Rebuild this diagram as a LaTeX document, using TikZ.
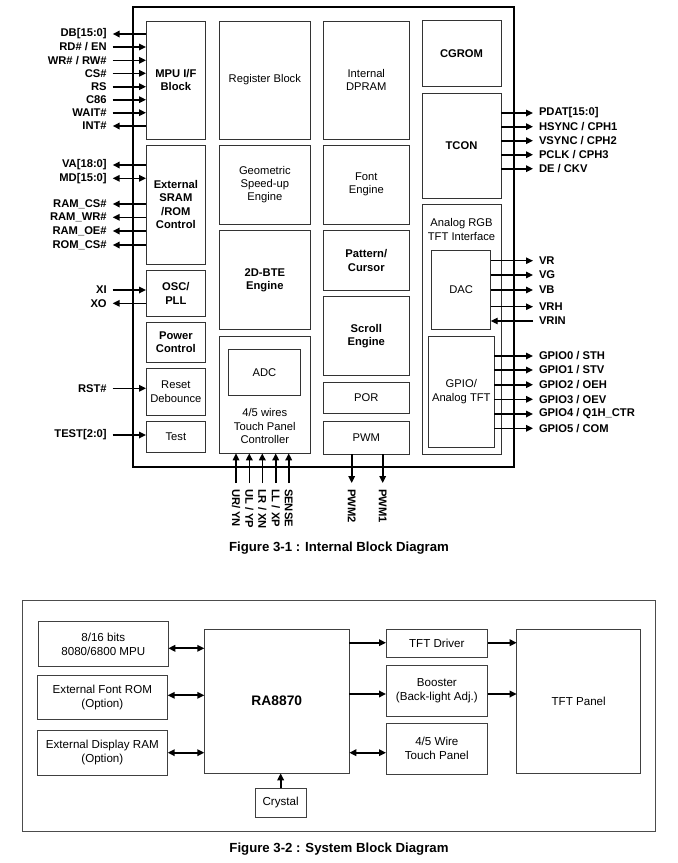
\documentclass[tikz,border=0pt]{standalone}
\usepackage{fontspec}
\setmainfont{Liberation Sans}
\usetikzlibrary{arrows.meta}
\tikzset{
  box/.style={draw=black!80, line width=0.9pt, fill=white, inner sep=1pt, outer sep=0pt, align=center, font=\fontsize{11.2}{13.3}\selectfont},
  bbox/.style={box, font=\fontsize{11.2}{13.3}\selectfont\bfseries},
  pinl/.style={font=\fontsize{11.2}{13}\selectfont\bfseries, inner xsep=6pt, inner ysep=0pt, outer sep=0pt},
  wire/.style={line width=1.6pt, black},
  thinwire/.style={line width=1.1pt, black},
  tip/.style={-{Triangle[length=7pt,width=6.5pt]}},
  rtip/.style={{Triangle[length=7pt,width=6.5pt]}-},
  btip/.style={{Triangle[length=7pt,width=6.5pt]}-{Triangle[length=7pt,width=6.5pt]}},
  figcap/.style={font=\fontsize{13.2}{15}\selectfont\bfseries},
  sysbox/.style={box, draw=black!75, line width=0.9pt, font=\fontsize{11.6}{14}\selectfont},
  sysw/.style={line width=2.2pt, black},
}
\newcommand{\bx}[7][]{\node[box,#1,minimum width={(#5-#3)*1pt},minimum height={(#6-#4)*1pt}] (#2) at ({(#3+#5)/2},{(#4+#6)/2}) {#7};}
\begin{document}
\begin{tikzpicture}[x=1pt,y=-1pt]
\useasboundingbox (0,0) rectangle (678,863);
% ---------------- Figure 3-1 ----------------
\node[draw=black, line width=2pt, outer sep=0pt, minimum width=381pt, minimum height=460pt] (chip) at (323.5,237) {};
% column 1
\bx[bbox]{mpu}{146}{21}{205.7}{139}{MPU I/F\\Block}
\bx[bbox]{sram}{146}{145}{205.7}{264}{External\\SRAM\\/ROM\\Control}
\bx[bbox]{osc}{146}{270.7}{205.7}{316}{OSC/\\PLL}
\bx[bbox]{pwr}{146}{322.7}{205.7}{362.3}{Power\\Control}
\bx{rst}{146}{368.3}{205.7}{415}{Reset\\Debounce}
\bx{test}{146}{421.3}{205.7}{452.7}{Test}
% column 2
\bx{reg}{219}{21}{310.7}{139}{Register Block}
\bx{geo}{219}{145}{310.7}{224}{Geometric\\Speed-up\\Engine}
\bx[bbox]{bte}{219}{230.7}{310.7}{329.3}{2D-BTE\\Engine}
\bx{tpc}{219}{336}{310.7}{453.3}{}
\bx{adc}{228.3}{349.3}{300.7}{395}{ADC}
\node[align=center, font=\fontsize{11.2}{13.8}\selectfont] (tpctext) at (264.8,426) {4/5 wires\\Touch Panel\\Controller};
% column 3
\bx{dpram}{323.3}{21}{409.3}{139}{Internal\\DPRAM}
\bx{font}{323.3}{145}{409.3}{224}{Font\\Engine}
\bx[bbox]{pat}{323.3}{230.7}{409.3}{290}{Pattern/\\Cursor}
\bx[bbox]{scroll}{323.3}{296.7}{409.3}{375.7}{Scroll\\Engine}
\bx{por}{323.3}{382}{409.3}{413.3}{POR}
\bx{pwm}{323.3}{421.7}{409.3}{454}{PWM}
% column 4
\bx[bbox]{cgrom}{422}{20.7}{501}{86.7}{CGROM}
\bx[bbox]{tcon}{422}{93.3}{501}{198.3}{TCON}
\bx{argb}{422}{204.7}{501}{454}{}
\node[align=center, font=\fontsize{11.2}{13.8}\selectfont] (argbtext) at (461.5,229.5) {Analog RGB\\TFT Interface};
\bx{dac}{431.7}{250}{490.7}{329.3}{DAC}
\bx{gpio}{428.3}{336}{494.3}{447.3}{GPIO/\\Analog TFT}
% left pins
\foreach \nm/\txt/\yy/\bxn/\dir in {
  db/{DB[15:0]}/34/mpu/rtip, rd/{RD\# / EN}/47/mpu/tip, wr/{WR\# / RW\#}/60.3/mpu/tip,
  cs/{CS\#}/73.3/mpu/tip, rs/{RS}/86.7/mpu/tip, c86/{C86}/99.7/mpu/tip,
  wait/{WAIT\#}/112.7/mpu/tip, int/{INT\#}/126/mpu/rtip,
  va/{VA[18:0]}/165/sram/rtip, md/{MD[15:0]}/178.3/sram/btip,
  rcs/{RAM\_CS\#}/204/sram/rtip, rwr/{RAM\_WR\#}/217.3/sram/rtip,
  roe/{RAM\_OE\#}/231/sram/rtip, romcs/{ROM\_CS\#}/245/sram/rtip,
  xi/{XI}/290/osc/tip, xo/{XO}/303.3/osc/rtip,
  rstp/{RST\#}/388.3/rst/tip, testp/{TEST[2:0]}/435/test/tip}
{
  \node[pinl, anchor=east] (p\nm) at (112.7,\yy) {\txt};
  \draw[wire,\dir] (p\nm.east) -- (p\nm.east -| \bxn.west);
}
% TCON outputs
\foreach \nm/\txt/\yy in {pdat/{PDAT[15:0]}/113, hs/{HSYNC / CPH1}/126.7, vs/{VSYNC / CPH2}/140.7, pclk/{PCLK / CPH3}/154.7, de/{DE / CKV}/168.7}
{
  \node[pinl, anchor=west] (p\nm) at (533,\yy) {\txt};
  \draw[wire,tip] (p\nm.west -| tcon.east) -- (p\nm.west);
}
% DAC pins
\foreach \nm/\txt/\yy in {vr/VR/260.7, vg/VG/275, vb/VB/290, vrh/VRH/306.7}
{
  \node[pinl, anchor=west] (p\nm) at (533,\yy) {\txt};
  \draw[thinwire,tip] (p\nm.west -| dac.east) -- (p\nm.west);
}
\node[pinl, anchor=west] (pvrin) at (533,321) {VRIN};
\draw[thinwire,tip] (pvrin.west) -- (pvrin.west -| dac.east);
% GPIO pins
\foreach \nm/\txt/\yy in {g0/{GPIO0 / STH}/356, g1/{GPIO1 / STV}/370, g2/{GPIO2 / OEH}/384.7, g3/{GPIO3 / OEV}/399.3, g4/{GPIO4 / Q1H\_CTR}/414, g5/{GPIO5 / COM}/428.3}
{
  \node[pinl, anchor=west] (p\nm) at (533,\yy) {\txt};
  \draw[wire,tip] (p\nm.west -| gpio.east) -- (p\nm.west);
}
% touch panel inputs
\foreach \nm/\txt/\xx in {ur/{UR/ YN}/236, ul/{UL / YP}/249.3, lr/{LR / XN}/262.3, ll/{LL / XP}/275.7, sense/{SENSE}/288.7}
{
  \node[pinl, rotate=-90, anchor=west] (p\nm) at (\xx,483) {\txt};
  \draw[wire,tip] (p\nm.west) -- (p\nm.west |- tpc.south);
}
% PWM outputs
\foreach \nm/\txt/\xx in {pwm2/PWM2/351.7, pwm1/PWM1/382.7}
{
  \node[pinl, rotate=-90, anchor=west] (p\nm) at (\xx,483) {\txt};
  \draw[wire,tip] (p\nm.west |- pwm.south) -- (p\nm.west);
}
\node[figcap] (cap1) at (339,548.3) {Figure 3-1 : Internal Block Diagram};
% ---------------- Figure 3-2 ----------------
\node[draw=black!70, line width=0.9pt, outer sep=0pt, minimum width=632.3pt, minimum height=231.7pt] (sys) at (338.85,715.85) {};
\bx[sysbox]{smpu}{38.3}{621.7}{168.3}{666}{8/16 bits\\8080/6800 MPU}
\bx[sysbox]{sfont}{37}{675}{167.7}{719.3}{External Font ROM\\(Option)}
\bx[sysbox]{sram2}{37}{730}{167.7}{775}{External Display RAM\\(Option)}
\bx[sysbox, font=\fontsize{13.8}{16}\selectfont\bfseries]{ra}{204.3}{629}{349.3}{773.3}{RA8870}
\bx[sysbox]{crystal}{255.3}{788.3}{306}{817.3}{Crystal}
\bx[sysbox]{drv}{386}{629}{487.7}{657.7}{TFT Driver}
\bx[sysbox]{boost}{386}{665}{487.7}{716}{Booster\\(Back-light Adj.)}
\bx[sysbox]{stp}{386}{723.3}{487.7}{774}{4/5 Wire\\Touch Panel}
\bx[sysbox]{panel}{516.7}{629}{640.7}{773.3}{TFT Panel}
\coordinate (y1) at (0,648.3);
\coordinate (y2) at (0,695.3);
\coordinate (y3) at (0,752.7);
\draw[sysw,btip] (smpu.east |- y1) -- (ra.west |- y1);
\draw[sysw,btip] (sfont.east |- y2) -- (ra.west |- y2);
\draw[sysw,btip] (sram2.east |- y3) -- (ra.west |- y3);
\coordinate (y4) at (0,642.7);
\coordinate (y5) at (0,694);
\draw[sysw,tip] (ra.east |- y4) -- (drv.west |- y4);
\draw[sysw,tip] (drv.east |- y4) -- (panel.west |- y4);
\draw[sysw,tip] (ra.east |- y5) -- (boost.west |- y5);
\draw[sysw,tip] (boost.east |- y5) -- (panel.west |- y5);
\draw[sysw,btip] (ra.east |- y3) -- (stp.west |- y3);
\draw[sysw,tip] (crystal.north) -- (ra.south -| crystal.north);
\node[figcap] (cap2) at (339,849.5) {Figure 3-2 : System Block Diagram};
\end{tikzpicture}
\end{document}
